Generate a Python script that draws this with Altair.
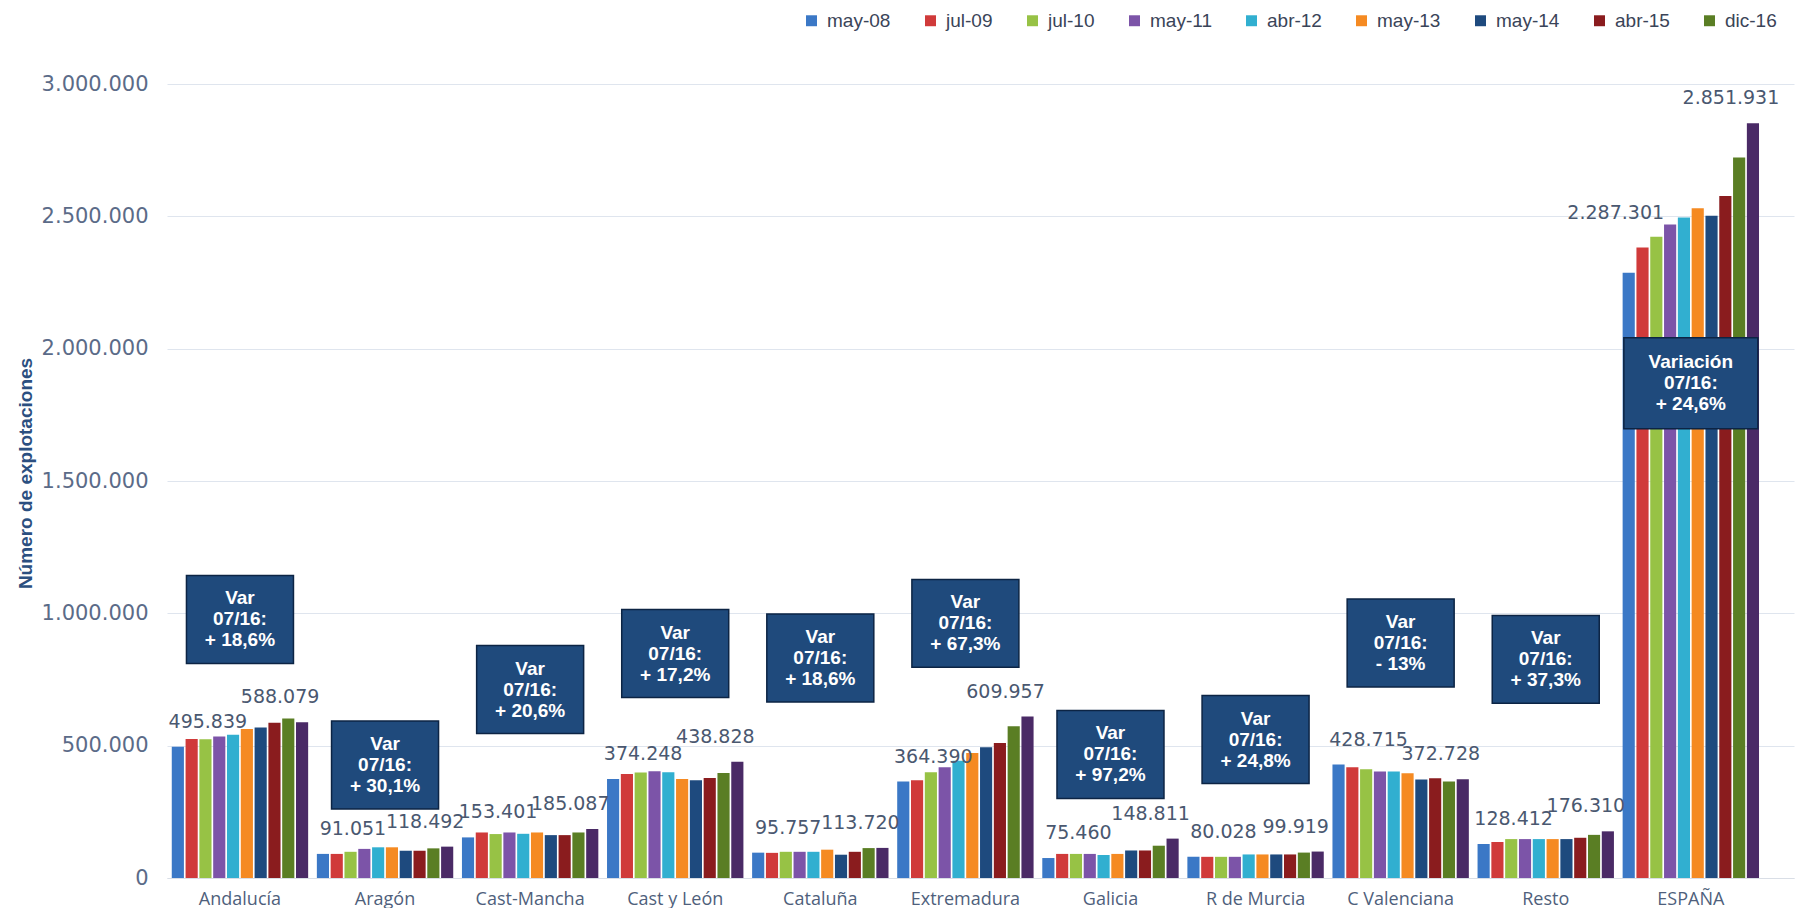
import altair as alt
import pandas as pd

regions = ["Andalucía", "Aragón", "Cast-Mancha", "Cast y León", "Cataluña",
           "Extremadura", "Galicia", "R de Murcia", "C Valenciana", "Resto", "ESPAÑA"]
series = ["may-08", "jul-09", "jul-10", "may-11", "abr-12", "may-13",
          "may-14", "abr-15", "dic-16", "jul-17"]
legend_series = series[:9]
colors = ["#3b78c6", "#d03a3a", "#97c245", "#7c54a8", "#31afd0", "#f58a22",
          "#1e4a7e", "#8a1c1e", "#5a7e24", "#4a2a66"]

andalucia = [495839, 525000, 524000, 535000, 541000, 563000, 569000, 587000, 603000, 588079]
aragon = [91051, 91000, 99000, 110000, 116000, 116000, 103000, 103000, 112000, 118492]
cast_mancha = [153401, 172000, 166000, 172000, 167000, 172000, 162000, 162000, 172000, 185087]
cast_leon = [374248, 393000, 399000, 403000, 400000, 374000, 369000, 378000, 397000, 438828]
cataluna = [95757, 95000, 99000, 99000, 99000, 107000, 88000, 99000, 113000, 113720]
extremadura = [364390, 369000, 400000, 418000, 443000, 472000, 494000, 510000, 573000, 609957]
galicia = [75460, 91000, 91000, 91000, 87000, 91000, 104000, 104000, 122000, 148811]
murcia = [80028, 80000, 80000, 80000, 89000, 89000, 89000, 89000, 96000, 99919]
c_valenciana = [428715, 418000, 411000, 402000, 402000, 396000, 372000, 377000, 365000, 372728]
resto = [128412, 136000, 147000, 147000, 147000, 147000, 147000, 152000, 163000, 176310]
espana = [2287301, 2382000, 2423000, 2469000, 2496000, 2531000, 2502000, 2577000, 2722000, 2851931]

all_values = [andalucia, aragon, cast_mancha, cast_leon, cataluna, extremadura,
              galicia, murcia, c_valenciana, resto, espana]

var_heads = ["Var"] * 10 + ["Variación"]
var_pcts = ["+ 18,6%", "+ 30,1%", "+ 20,6%", "+ 17,2%", "+ 18,6%", "+ 67,3%",
            "+ 97,2%", "+ 24,8%", "- 13%", "+ 37,3%", "+ 24,6%"]
var_levels = [977000, 427000, 712000, 848000, 831000, 962000,
              467000, 523000, 888000, 826000, 1869000]

y_ticks = [0, 500000, 1000000, 1500000, 2000000, 2500000, 3000000]


def fmt(v):
    return f"{v:,}".replace(",", ".")


rows = []
for r, vals in zip(regions, all_values):
    for i, (s, v) in enumerate(zip(series, vals)):
        rows.append({"region": r, "series": s, "idx": i, "value": v, "label": fmt(v)})
df = pd.DataFrame(rows)

boxes = pd.DataFrame({
    "region": regions,
    "level": var_levels,
    "text": [h + "\n07/16:\n" + p for h, p in zip(var_heads, var_pcts)],
})

X = alt.X("region:N",
          scale=alt.Scale(domain=regions, paddingInner=0.06, paddingOuter=0.137, align=0.12),
          axis=alt.Axis(title=None, labelAngle=0, labelFont="Open Sans", labelFontSize=18,
                        labelColor="#4f5f7c", labelPadding=12, ticks=False,
                        domain=True, domainColor="#d9dee6", grid=False))
XO = alt.XOffset("series:N", scale=alt.Scale(domain=series, paddingInner=0.12))
Y = alt.Y("value:Q",
          scale=alt.Scale(domain=[0, 3000000], nice=False),
          axis=alt.Axis(values=y_ticks,
                        labelExpr="replace(replace(format(datum.value, ',d'), ',', '.'), ',', '.')",
                        labelFont="DejaVu Sans", labelFontSize=21, labelColor="#5b6b88",
                        labelPadding=19, ticks=False, domain=False, grid=True,
                        gridColor="#dfe5ee", gridWidth=1,
                        title="Número de explotaciones", titleFont="Liberation Sans",
                        titleFontWeight="bold", titleFontSize=19, titleColor="#2b4f80",
                        titleAngle=-90, titleX=-142, titleY=389,
                        titleAlign="center", titleBaseline="middle"))
YL = alt.Y("level:Q", scale=alt.Scale(domain=[0, 3000000], nice=False))

bars = alt.Chart(df).mark_bar(opacity=1).encode(
    x=X, xOffset=XO, y=Y,
    color=alt.Color("series:N",
                    scale=alt.Scale(domain=series, range=colors),
                    legend=alt.Legend(values=legend_series, title=None, orient="none",
                                      legendX=635, legendY=-73, direction="horizontal",
                                      columns=9, symbolType="square", symbolSize=120,
                                      symbolStrokeWidth=0, symbolOpacity=1,
                                      labelFont="Liberation Sans", labelFontSize=19,
                                      labelColor="#3a4458", labelOffset=6,
                                      columnPadding=30)),
)

lab_style = dict(font="DejaVu Sans", fontSize=19, color="#4a5870", baseline="middle", align="center")

first_df = df[(df["idx"] == 0) & (df["region"] != "ESPAÑA")]
last_df = df[df["idx"] == 9]
esp_first = df[(df["idx"] == 0) & (df["region"] == "ESPAÑA")]

first_lab = alt.Chart(first_df).mark_text(dx=30, dy=-25, **lab_style).encode(
    x=X, xOffset=XO, y=Y, text="label:N")
last_lab = alt.Chart(last_df).mark_text(dx=-22, dy=-25, **lab_style).encode(
    x=X, xOffset=XO, y=Y, text="label:N")
esp_lab = alt.Chart(esp_first).mark_text(dx=-13, dy=-60, **lab_style).encode(
    x=X, xOffset=XO, y=Y, text="label:N")

box_small = alt.Chart(boxes[boxes["region"] != "ESPAÑA"]).mark_point(
    shape="M-1,-0.822L1,-0.822L1,0.822L-1,0.822Z", filled=True, fill="#1f4a7c",
    stroke="#0c2444", strokeWidth=1.5, opacity=1, size=107 * 107
).encode(x=X, y=YL)

box_big = alt.Chart(boxes[boxes["region"] == "ESPAÑA"]).mark_point(
    shape="M-1,-0.679L1,-0.679L1,0.679L-1,0.679Z", filled=True, fill="#1f4a7c",
    stroke="#0c2444", strokeWidth=1.5, opacity=1, size=134 * 134
).encode(x=X, y=YL)

box_text = alt.Chart(boxes).mark_text(
    font="Liberation Sans", fontWeight="bold", fontSize=19, color="white",
    lineBreak="\n", lineHeight=21, align="center", baseline="middle", dy=-21
).encode(x=X, y=YL, text="text:N")

chart = alt.layer(bars, first_lab, last_lab, esp_lab, box_small, box_big, box_text).properties(
    width=1627, height=794,
    padding={"left": 159, "top": 76, "right": 5, "bottom": 30},
    autosize=alt.AutoSizeParams(type="none"),
    background="white",
).configure_view(stroke=None)

chart.save("out.html", embed_options={"renderer": "svg", "actions": False})
